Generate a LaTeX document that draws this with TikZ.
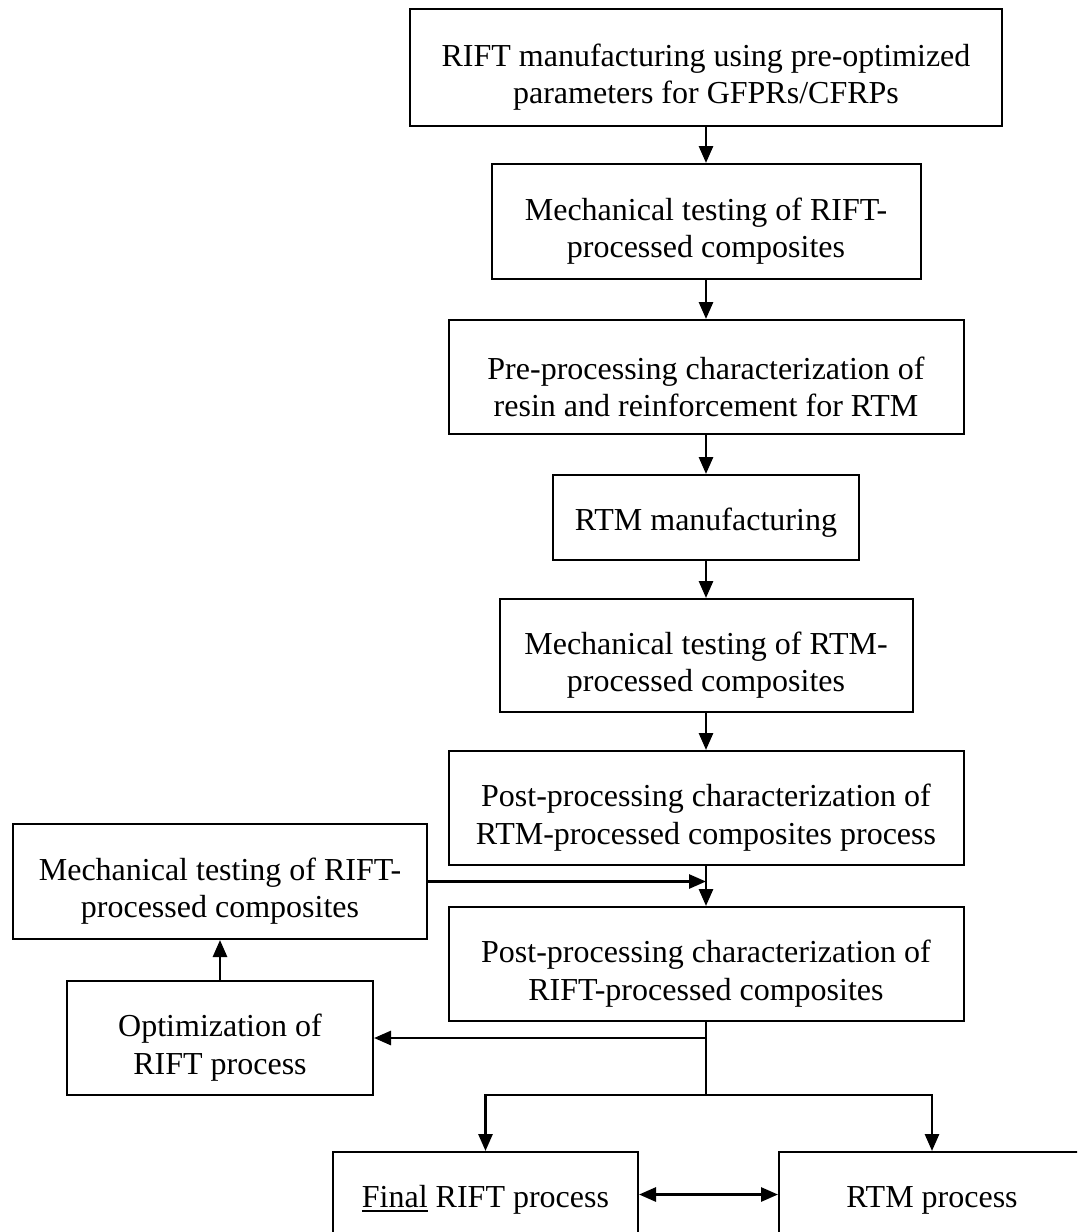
\documentclass[tikz,border=0pt]{standalone}
\usepackage{fontspec}
\setmainfont{Liberation Serif}
\usetikzlibrary{arrows.meta}
\newcommand{\subrayado}[1]{\setbox0\hbox{#1}\rlap{\rule[-5pt]{\wd0}{2pt}}\box0\relax}
\newcommand{\margen}{\rule{0pt}{42pt}}
\begin{document}
\begin{tikzpicture}[x=1pt,y=-1pt]

	%DEFINICIONES
	\tikzstyle{every node}=[font=\fontsize{32}{37.7}\selectfont]
	\tikzstyle{block} = [draw, align=center, line width=2pt, inner sep=0pt, minimum width=515pt, minimum height=114pt]
	\tikzstyle{corto} = [block, minimum width=306pt, minimum height=85pt, execute at begin node={\rule{0pt}{32pt}}]
	\tikzstyle{flecha} = [->, line width=2.8pt, >={Triangle[length=17pt,width=14pt]}]
	\tikzstyle{tallo} = [line width=1.5pt]

	\useasboundingbox (0,0) rectangle (1077,1232);
	\clip (0,0) rectangle (1077,1232);

	%BLOQUES
	\draw(706,67.5) node[block, minimum width=592pt, minimum height=117pt](1){\margen RIFT manufacturing using pre-optimized\\parameters for GFPRs/CFRPs};
	\draw(706,221.5) node[block, minimum width=429pt, minimum height=115pt](2){\margen Mechanical testing of RIFT-\\processed composites};
	\draw(706,377) node[block](3){\margen Pre-processing characterization of\\resin and reinforcement for RTM};
	\draw(706,517.5) node[corto](4){RTM manufacturing};
	\draw(706,655.5) node[block, minimum width=413pt, minimum height=113pt](5){\margen Mechanical testing of RTM-\\processed composites};
	\draw(706,808) node[block](6){\margen Post-processing characterization of\\RTM-processed composites process};
	\draw(220,881.5) node[block, minimum width=414pt, minimum height=115pt](7){\margen Mechanical testing of RIFT-\\processed composites};
	\draw(706,964) node[block](8){\margen Post-processing characterization of\\RIFT-processed composites};
	\draw(220,1038) node[block, minimum width=306pt](9){\margen Optimization of\\RIFT process};
	\draw(485.5,1194.5) node[corto, minimum width=305pt](10){\subrayado{Final} RIFT process};
	\draw(932,1194.5) node[corto](11){RTM process};

	\coordinate (izq) at (8.south |- 9.east);	%SALIDA A LA IZQUIERDA
	\coordinate (ramal) at (706,1095);	%RAMAL INFERIOR

	%FLECHAS
	\draw [flecha] (1.south) -- (2.north);
	\draw [flecha] (2.south) -- (3.north);
	\draw [flecha] (3.south) -- (4.north);
	\draw [flecha] (4.south) -- (5.north);
	\draw [flecha] (5.south) -- (6.north);
	\draw [flecha] (6.south) -- (8.north);
	\draw [flecha] (7.east) -- (7.east -| 6.south);
	\draw [flecha] (9.north) -- (7.south);

	\draw [tallo] (8.south) -- (ramal);
	\draw [flecha] (izq) -- (9.east);
	\draw [flecha] (ramal) -| (10.north);
	\draw [flecha] (ramal) -| (11.north);
	\draw [flecha, <->] (10.east) -- (11.west);
\end{tikzpicture}
\end{document}
